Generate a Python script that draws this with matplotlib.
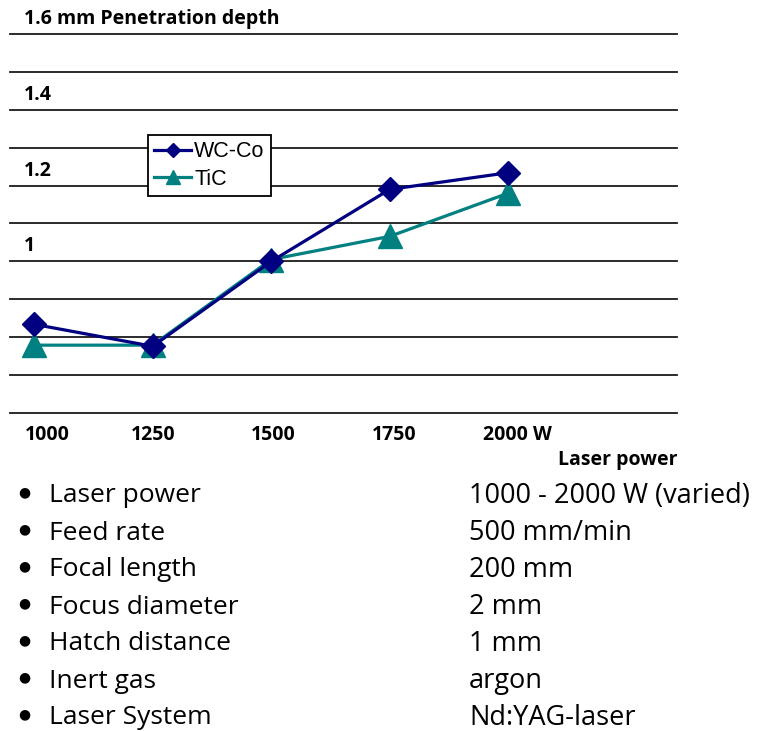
import matplotlib.pyplot as plt
import matplotlib.transforms as mtransforms

plt.rcParams['font.family'] = ['Open Sans', 'DejaVu Sans']

power = [1000, 1250, 1500, 1750, 2000]
power_labels = ['1000', '1250', '1500', '1750', '2000 W']
wc_co = [0.834, 0.776, 1.0, 1.19, 1.234]
tic = [0.779, 0.779, 1.005, 1.066, 1.18]

depth_ticks = [1.6, 1.4, 1.2, 1.0]
depth_labels = ['1.6 mm Penetration depth', '1.4', '1.2', '1']
grid_levels = [0.6, 0.7, 0.8, 0.9, 1.0, 1.1, 1.2, 1.3, 1.4, 1.5, 1.6]

params = ['Laser power', 'Feed rate', 'Focal length', 'Focus diameter',
          'Hatch distance', 'Inert gas', 'Laser System']
settings = ['1000 - 2000 W (varied)', '500 mm/min', '200 mm', '2 mm',
            '1 mm', 'argon', 'Nd:YAG-laser']

W, H = 763, 731
fig = plt.figure(figsize=(W / 100, H / 100), dpi=100)
ax = fig.add_axes([10 / W, 1 - 413 / H, 667 / W, 379 / H])
ax.set_xlim(949, 2356)
ax.set_ylim(0.6, 1.6)

for y in grid_levels:
    ax.axhline(y, color='#1a1a1a', lw=1.3, zorder=1, clip_on=False)

ax.plot(power, wc_co, color='#000080', lw=2.3, marker='D', ms=12,
        label='WC-Co', zorder=4, clip_on=False)
ax.plot(power, tic, color='#008080', lw=2.3, marker='^', ms=17,
        label='TiC', zorder=3, clip_on=False)

for s in ax.spines.values():
    s.set_visible(False)
ax.set_yticks([])
ax.set_xticks(power)
ax.set_xticklabels(power_labels, fontsize=14, fontweight='bold')
ax.tick_params(axis='x', length=0, pad=9)
# nudge labels the way the original axis spaced them
for lab, dx in zip(ax.get_xticklabels(), [13, 0, 2, 4, 9]):
    lab.set_transform(lab.get_transform() +
                      mtransforms.ScaledTranslation(dx / 100, 0, fig.dpi_scale_trans))

# depth labels sit just above their gridline
for y, lab in zip(depth_ticks, depth_labels):
    ax.annotate(lab, xy=(0, y), xycoords=('axes fraction', 'data'),
                xytext=(14 / 100 * 72, 15 / 100 * 72), textcoords='offset points',
                ha='left', va='center', fontsize=14, fontweight='bold')

fig.text(677 / W, 1 - 460 / H, 'Laser power', ha='right', va='center',
         fontsize=14, fontweight='bold')

leg = ax.legend(loc='upper left', bbox_to_anchor=(148 / W, 1 - 135 / H),
                bbox_transform=fig.transFigure, frameon=True, fancybox=False,
                edgecolor='black', framealpha=1, markerscale=0.6,
                handlelength=1.7, handletextpad=0.15, borderpad=0.3,
                labelspacing=0.3, borderaxespad=0,
                prop={'family': 'Liberation Sans', 'size': 15.5})
leg.get_frame().set_linewidth(1.3)
leg.set_zorder(5)

for i, (p, s) in enumerate(zip(params, settings)):
    y = 1 - (496 + 37 * i) / H
    fig.text(18 / W, y + 4 / H, '\u25cf', ha='left', va='center', fontsize=10,
             family='DejaVu Sans')
    fig.text(49 / W, y, p, ha='left', va='center', fontsize=19)
    fig.text(469 / W, y, s, ha='left', va='center', fontsize=19.5)

fig.savefig('out.png', dpi=100)
